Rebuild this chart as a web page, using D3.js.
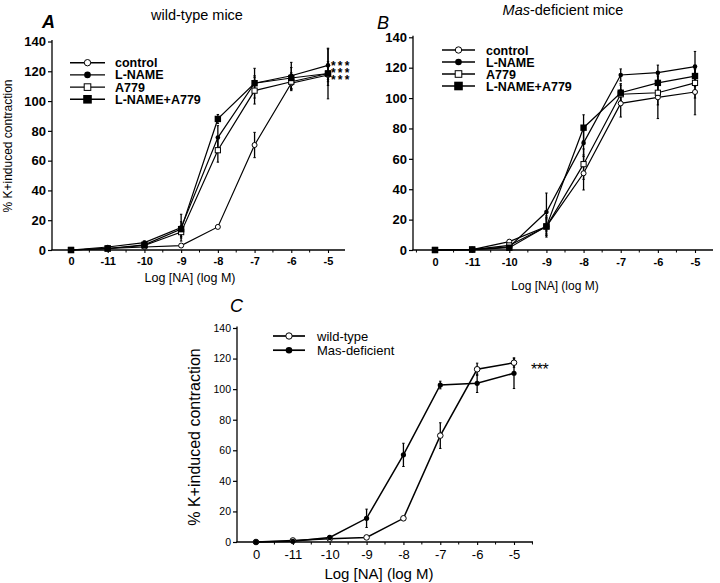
<!DOCTYPE html>
<html><head><meta charset="utf-8">
<script src="https://cdn.jsdelivr.net/npm/d3@7"></script>
<style>body{margin:0;background:#fff}svg{display:block}text{font-family:"Liberation Sans",Arial,sans-serif;fill:#000}</style>
</head><body><svg id="c" width="720" height="583"></svg>
<script>
// ---------- data ----------
const categories = ["0","-11","-10","-9","-8","-7","-6","-5"];
const yTicks = [0,20,40,60,80,100,120,140];
const seriesNamesAB = ["control","L-NAME","A779","L-NAME+A779"];
const seriesNamesC = ["wild-type","Mas-deficient"];

// Panel A: wild-type mice
const wtControl    = [0, 1, 2, 3, 15.5, 70.5, 112, 117.5];
const wtControlErr = [0, 0.5, 0.5, 0.5, 1, 8.5, 4, 3];
const wtLName      = [0, 2, 5, 15, 75.5, 112, 117, 124];
const wtLNameErr   = [0, 0.5, 1, 9, 8, 10, 9, 11];
const wtA779       = [0, 1, 3, 12, 67, 107, 113, 118.5];
const wtA779Err    = [0, 0.5, 1, 4, 8, 9, 6, 17];
const wtLA         = [0, 1, 3.5, 14, 88, 112, 115.5, 118.5];
const wtLAErr      = [0, 0.5, 1, 5, 3, 5, 7, 8];

// Panel B: Mas-deficient mice
const masControl    = [0, 0.3, 5.5, 15.5, 50.5, 96.5, 100.5, 104];
const masControlErr = [0, 0, 1, 5, 11, 9, 14, 15];
const masLName      = [0, 0.3, 2, 25, 70.5, 115.2, 116.7, 120.7];
const masLNameErr   = [0, 0, 1, 12.5, 8, 4, 5, 10];
const masA779       = [0, 0.3, 3, 15.5, 56.5, 102.5, 103.5, 110];
const masA779Err    = [0, 0, 1, 6, 10, 7, 8, 10];
const masLA         = [0, 0.3, 1.5, 15.5, 80.5, 103.5, 110, 114.5];
const masLAErr      = [0, 0, 1, 7, 8.5, 5, 6, 7];

// Panel C: wild-type vs Mas-deficient
const cWT     = [0, 1, 2.2, 3, 15.5, 69.6, 113, 117.3];
const cWTErr  = [0, 0, 0.5, 0.5, 1, 8.4, 4, 3];
const cMas    = [0, 0.5, 3, 15.5, 57, 102.7, 103.8, 110.4];
const cMasErr = [0, 0.5, 1, 6, 7.6, 2.5, 6, 10];

// ---------- drawing ----------
const svg = d3.select("#c");
const FONT = '"Liberation Sans",Arial,sans-serif';

function marker(g, type, x, y, s) {
  if (type === "oc") g.append("circle").attr("cx",x).attr("cy",y).attr("r",s).attr("fill","#fff").attr("stroke","#000").attr("stroke-width",1);
  else if (type === "fc") g.append("circle").attr("cx",x).attr("cy",y).attr("r",s).attr("fill","#000");
  else if (type === "os") g.append("rect").attr("x",x-s).attr("y",y-s).attr("width",2*s).attr("height",2*s).attr("fill","#fff").attr("stroke","#000").attr("stroke-width",1);
  else if (type === "fs") g.append("rect").attr("x",x-s).attr("y",y-s).attr("width",2*s).attr("height",2*s).attr("fill","#000");
}

function panel(cfg) {
  const g = svg.append("g");
  const x = d3.scaleLinear().domain([0, categories.length-1]).range([cfg.x0, cfg.x7]);
  const y = d3.scaleLinear().domain([0,140]).range([cfg.yb, cfg.yt]);

  // axes
  const ya = g.append("g").attr("transform",`translate(${cfg.axL},0)`)
    .call(d3.axisLeft(y).tickValues(yTicks).tickSize(4).tickPadding(2).tickSizeOuter(0));
  ya.select(".domain").remove();
  g.append("line").attr("x1",cfg.axL).attr("x2",cfg.axL).attr("y1",cfg.yb).attr("y2",cfg.yt-1.5).attr("stroke","#000").attr("stroke-width",1.3);
  ya.selectAll(".tick line").attr("stroke-width",1.2);
  ya.selectAll("text").attr("font-size",cfg.ytFs).attr("font-weight",cfg.tickW).attr("font-family",FONT);

  const xa = g.append("g").attr("transform",`translate(0,${cfg.yb})`)
    .call(d3.axisBottom(x).tickValues(d3.range(categories.length)).tickFormat(i=>categories[i]).tickSize(3).tickPadding(cfg.xPad).tickSizeOuter(0));
  xa.select(".domain").remove();
  xa.selectAll(".tick line").attr("stroke-width",1.1);
  xa.selectAll("text").attr("font-size",cfg.xtFs).attr("font-weight",cfg.tickW).attr("font-family",FONT);
  const minor = d3.range(-0.5, categories.length, 1).filter(v => x(v) > cfg.axL+2 && x(v) < cfg.axR);
  g.selectAll(".mt").data(minor).join("line").attr("x1",d=>x(d)).attr("x2",d=>x(d)).attr("y1",cfg.yb).attr("y2",cfg.yb+2.5).attr("stroke","#000").attr("stroke-width",1);
  g.append("line").attr("x1",cfg.axL-0.6).attr("x2",cfg.axR).attr("y1",cfg.yb).attr("y2",cfg.yb).attr("stroke","#000").attr("stroke-width",1.3);

  // lines
  const line = d3.line().x((d,i)=>x(i)).y(d=>y(d));
  cfg.series.forEach(s => {
    g.append("path").attr("d", line(s.v)).attr("fill","none").attr("stroke","#000").attr("stroke-width",cfg.lw);
  });
  // error bars
  cfg.series.forEach(s => {
    s.v.forEach((v,i) => {
      const e = s.e[i]; if (!e) return;
      g.append("line").attr("x1",x(i)).attr("x2",x(i)).attr("y1",y(v-e)).attr("y2",y(v+e)).attr("stroke","#000").attr("stroke-width",1.3);
      [v-e, v+e].forEach(w => g.append("line").attr("x1",x(i)-1.2).attr("x2",x(i)+1.2).attr("y1",y(w)).attr("y2",y(w)).attr("stroke","#000").attr("stroke-width",1));
    });
  });
  // markers
  cfg.series.forEach(s => {
    s.v.forEach((v,i) => marker(g, s.m, x(i), y(v), s.ms));
  });

  // legend
  cfg.series.forEach((s,k) => {
    const ly = cfg.legY + k*cfg.legDy;
    g.append("line").attr("x1",cfg.legX1).attr("x2",cfg.legX2).attr("y1",ly).attr("y2",ly).attr("stroke","#000").attr("stroke-width",cfg.lw+0.2);
    marker(g, s.m, (cfg.legX1+cfg.legX2)/2, ly, s.lms);
    g.append("text").attr("x",cfg.legTx).attr("y",ly).attr("dy","0.36em").attr("font-size",cfg.legFs).attr("font-weight",cfg.legW).text(s.name);
  });

  // axis titles
  g.append("text").attr("x",cfg.xlX).attr("y",cfg.xlY).attr("text-anchor","middle").attr("font-size",cfg.xlFs).text("Log [NA] (log M)");
  if (cfg.ylX) g.append("text").attr("transform",`translate(${cfg.ylX},${cfg.ylY}) rotate(-90)`).attr("text-anchor","middle").attr("font-size",cfg.ylFs).text("% K+induced contraction");
  return g;
}

// Panel A
const gA = panel({
  x0:71, x7:328, axL:52, axR:345, yb:250, yt:41.5,
  ytFs:13, xtFs:11, tickW:"bold", xPad:4, lw:1.2,
  series:[
    {name:seriesNamesAB[0], v:wtControl, e:wtControlErr, m:"oc", ms:2.5, lms:3.2},
    {name:seriesNamesAB[1], v:wtLName, e:wtLNameErr, m:"fc", ms:2.3, lms:3.3},
    {name:seriesNamesAB[2], v:wtA779, e:wtA779Err, m:"os", ms:2.6, lms:3.3},
    {name:seriesNamesAB[3], v:wtLA, e:wtLAErr, m:"fs", ms:3.2, lms:4.3}
  ],
  legX1:70, legX2:105, legTx:115, legY:62.7, legDy:12.2, legFs:12.5, legW:"bold",
  xlX:190, xlY:282, xlFs:12.5, ylX:12, ylY:146, ylFs:12
});
gA.append("text").attr("x",197).attr("y",20).attr("text-anchor","middle").attr("font-size",14.5).text("wild-type mice");
gA.append("text").attr("x",42).attr("y",28).attr("font-size",18).attr("font-weight","bold").attr("font-style","italic").text("A");
const starsA = gA.append("text").attr("font-size",12).attr("font-weight","bold").attr("letter-spacing",2.2);
[64,70.7,77.4].forEach((yy,k) => starsA.append("tspan").attr("x",331).attr("y",yy+6.3).text("***"));

// Panel B
const gB = panel({
  x0:435, x7:695, axL:413, axR:713, yb:250, yt:37.3,
  ytFs:13, xtFs:11, tickW:"bold", xPad:5, lw:1.2,
  series:[
    {name:seriesNamesAB[0], v:masControl, e:masControlErr, m:"oc", ms:2.5, lms:3.2},
    {name:seriesNamesAB[1], v:masLName, e:masLNameErr, m:"fc", ms:2.3, lms:3.3},
    {name:seriesNamesAB[2], v:masA779, e:masA779Err, m:"os", ms:2.6, lms:3.3},
    {name:seriesNamesAB[3], v:masLA, e:masLAErr, m:"fs", ms:3.2, lms:4.3}
  ],
  legX1:442, legX2:475, legTx:486, legY:50, legDy:12, legFs:12.5, legW:"bold",
  xlX:555, xlY:290, xlFs:12, ylX:null
});
const tB = gB.append("text").attr("x",563).attr("y",15).attr("text-anchor","middle").attr("font-size",14.5);
tB.append("tspan").attr("font-style","italic").text("Mas");
tB.append("tspan").text("-deficient mice");
gB.append("text").attr("x",377).attr("y",29).attr("font-size",18).attr("font-style","italic").text("B");

// Panel C
const gC = panel({
  x0:256, x7:514, axL:237, axR:533, yb:542, yt:328,
  ytFs:10.5, xtFs:13, tickW:"normal", xPad:5, lw:1.5,
  series:[
    {name:seriesNamesC[0], v:cWT, e:cWTErr, m:"oc", ms:2.8, lms:3.2},
    {name:seriesNamesC[1], v:cMas, e:cMasErr, m:"fc", ms:2.6, lms:3.3}
  ],
  legX1:273, legX2:305, legTx:317, legY:336, legDy:14.2, legFs:13, legW:"normal",
  xlX:379, xlY:578.5, xlFs:15, ylX:200, ylY:437, ylFs:16
});
gC.append("text").attr("x",230).attr("y",312).attr("font-size",18).attr("font-style","italic").text("C");
gC.append("text").attr("x",531).attr("y",375).attr("font-size",16).attr("letter-spacing",-0.5).text("***");
</script></body></html>
